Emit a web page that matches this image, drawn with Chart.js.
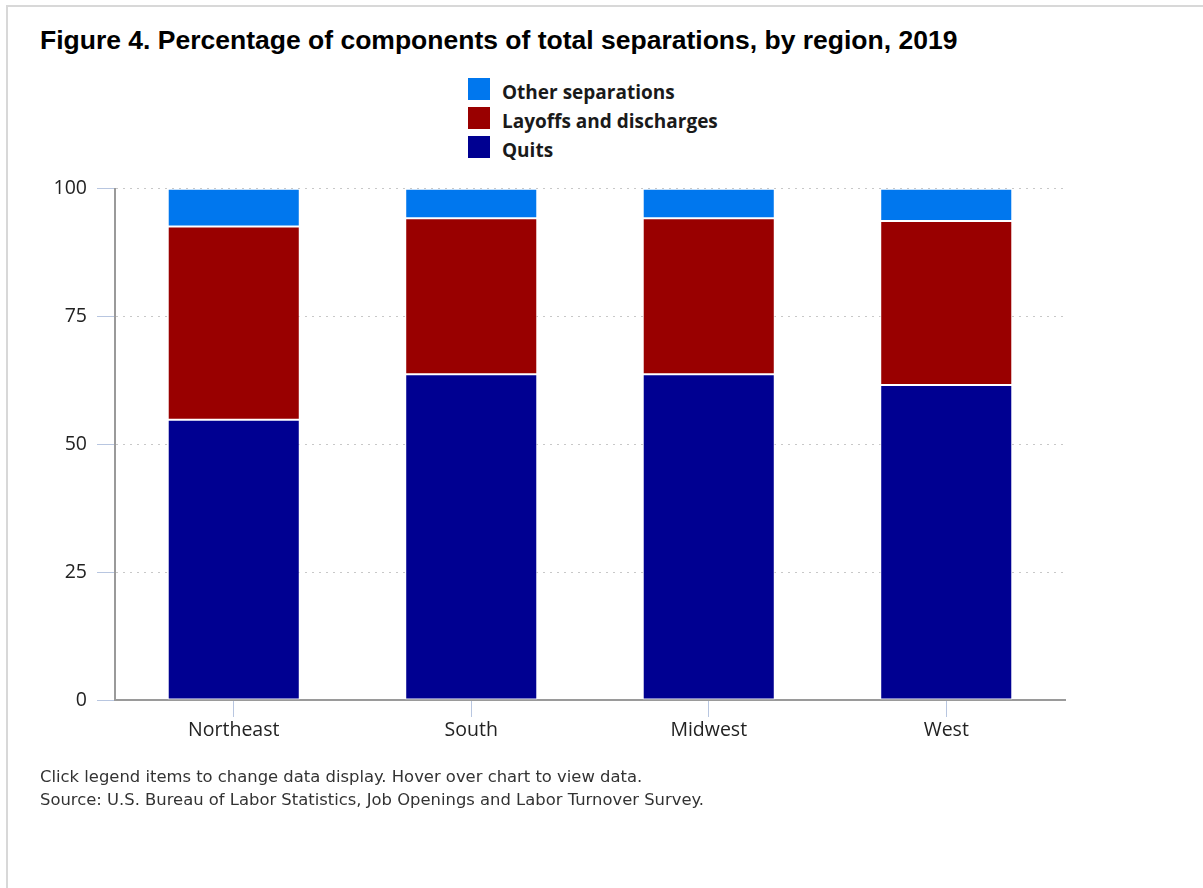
<!DOCTYPE html>
<html lang="en">
<head>
<meta charset="utf-8">
<title>Figure 4. Percentage of components of total separations, by region, 2019</title>
<script src="https://cdn.jsdelivr.net/npm/chart.js@4/dist/chart.umd.min.js"></script>
<style>
  html, body { margin: 0; padding: 0; background: #fff; }
  body { width: 1203px; height: 888px; position: relative; overflow: hidden; }
  .frame { position: absolute; left: 6px; top: 5px; width: 1300px; height: 1000px; border: 2px solid #d8d8d8; }
  .title { position: absolute; left: 40px; top: 25px; margin: 0; font: bold 26.5px/30px "Liberation Sans", Arial, sans-serif; color: #000; white-space: nowrap; }
  .legend { position: absolute; left: 468px; top: 78px; margin: 0; padding: 0; list-style: none; }
  .legend li { height: 29px; display: flex; align-items: flex-start; cursor: pointer; font: bold 19px/22px "Open Sans", sans-serif; color: #1a1a1a; }
  .legend li span.box { width: 22px; height: 22px; margin-right: 12px; flex: none; }
  .legend li span.label { position: relative; top: 3px; white-space: nowrap; }
  .legend li.hidden span.label { color: #ccc; }
  .chart-wrap { position: absolute; left: 0; top: 167px; width: 1100px; height: 600px; }
  .notes { position: absolute; left: 40px; top: 765px; font: 16.4px/23px "DejaVu Sans", Verdana, sans-serif; color: #333; }
</style>
</head>
<body>
<div class="frame"></div>
<h1 class="title">Figure 4. Percentage of components of total separations, by region, 2019</h1>
<ul class="legend" id="legend"></ul>
<div class="chart-wrap"><canvas id="chart" width="1100" height="600"></canvas></div>
<div class="notes">
  <div>Click legend items to change data display. Hover over chart to view data.</div>
  <div>Source: U.S. Bureau of Labor Statistics, Job Openings and Labor Turnover Survey.</div>
</div>

<script>
// --- Data (percent of total separations, 2019) ---
const regions = ['Northeast', 'South', 'Midwest', 'West'];
const quits = [54.8, 63.7, 63.7, 61.6];
const layoffs = [37.8, 30.5, 30.5, 32.1];
const otherSeparations = [7.4, 5.8, 5.8, 6.3];
const yTicks = [0, 25, 50, 75, 100];

// --- Styling ---
const tickFont = { family: "'Open Sans', sans-serif", size: 19.5 };
const axisGray = '#9a9a9a';
const tickBlue = '#b8c6e0';

// stack order bottom -> top
const datasets = [
  { label: 'Quits', data: quits, backgroundColor: '#000091' },
  { label: 'Layoffs and discharges', data: layoffs, backgroundColor: '#990000' },
  { label: 'Other separations', data: otherSeparations, backgroundColor: '#0077ee' }
].map(ds => ({
  ...ds,
  borderColor: 'rgba(255,255,255,0.85)',
  borderWidth: 1,
  borderSkipped: false,
  barPercentage: 0.556,
  categoryPercentage: 1
}));

const chart = new Chart(document.getElementById('chart'), {
  type: 'bar',
  data: { labels: regions, datasets },
  options: {
    responsive: false,
    animation: false,
    layout: { padding: { top: 12, right: 35, bottom: 0, left: 0 } },
    interaction: { mode: 'index', intersect: false },
    plugins: {
      legend: { display: false },
      title: { display: false },
      tooltip: {
        callbacks: { label: ctx => ` ${ctx.dataset.label}: ${ctx.raw}%` }
      }
    },
    scales: {
      x: {
        stacked: true,
        grid: { offset: false, drawOnChartArea: false, drawTicks: true, tickLength: 17, tickColor: tickBlue, tickWidth: 1 },
        border: { display: true, color: axisGray, width: 2 },
        ticks: { font: tickFont, color: '#222', padding: 2 },
        afterFit: scale => { scale.height = 67; }
      },
      y: {
        stacked: true,
        min: 0,
        max: 100,
        afterBuildTicks: scale => { scale.ticks = yTicks.map(v => ({ value: v })); },
        grid: { color: '#c8c8c8', lineWidth: 1, drawTicks: true, tickLength: 18, tickColor: tickBlue, tickWidth: 1, tickBorderDash: [] },
        border: { display: true, color: axisGray, width: 2, dash: [2, 5] },
        ticks: { font: tickFont, color: '#222', padding: 10 },
        afterFit: scale => { scale.width = 115; }
      }
    }
  }
});

// --- HTML legend (top item = top of stack) ---
const legendEl = document.getElementById('legend');
const renderLegend = () => {
  legendEl.innerHTML = '';
  [...datasets.keys()].reverse().forEach(i => {
    const li = document.createElement('li');
    if (!chart.isDatasetVisible(i)) li.classList.add('hidden');
    li.innerHTML = `<span class="box" style="background:${datasets[i].backgroundColor}"></span><span class="label">${datasets[i].label}</span>`;
    li.addEventListener('click', () => {
      chart.setDatasetVisibility(i, !chart.isDatasetVisible(i));
      chart.update();
      renderLegend();
    });
    legendEl.appendChild(li);
  });
};
renderLegend();
</script>
</body>
</html>
